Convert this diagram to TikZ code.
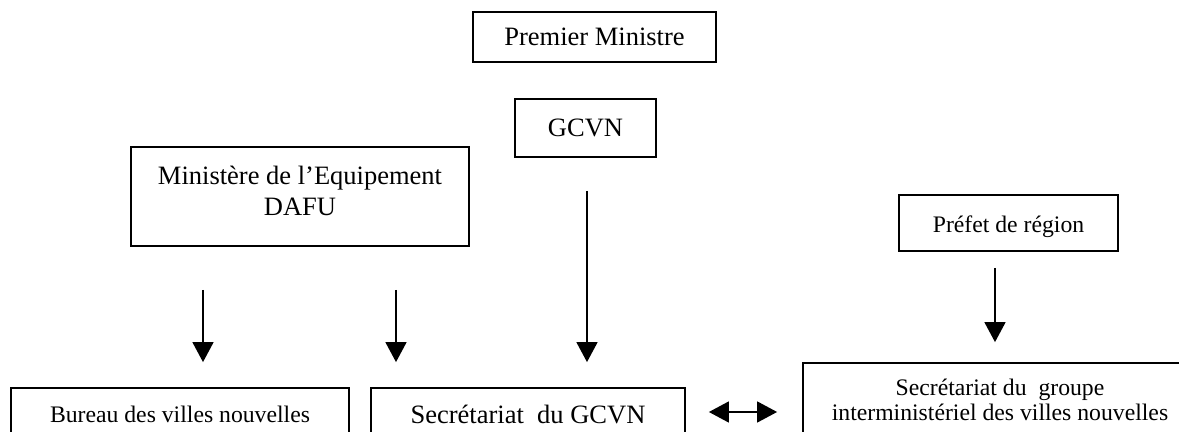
\documentclass[tikz,border=0pt]{standalone}
\usepackage{fontspec}
\setmainfont{Liberation Serif}
\usetikzlibrary{arrows.meta}
\begin{document}
\begin{tikzpicture}[x=0.5pt,y=-0.5pt,
  box/.style={draw, line width=0.9pt, inner sep=0pt, align=center},
  big/.style={font=\fontsize{13.25}{15.5}\selectfont},
  small/.style={font=\fontsize{11.85}{12.5}\selectfont},
  arr/.style={line width=0.8pt, -{Triangle[width=10.5pt,length=10pt]}},
  darr/.style={line width=0.8pt, {Triangle[width=10.5pt,length=10pt]}-{Triangle[width=10.5pt,length=10pt]}}]
\useasboundingbox (0,0) rectangle (1179,432);
\clip (0,0) rectangle (1179,432);

\node[box,big,minimum width=121.5pt,minimum height=25pt] (pm) at (594.5,37) {Premier Ministre};
\node[box,big,minimum width=70.5pt,minimum height=29pt] (gcvn) at (585.5,128) {GCVN};
\node[box,big,minimum width=169pt,minimum height=49.5pt,text depth=6pt] (min) at (300,196.5) {Ministère de l’Equipement\\DAFU};
\node[box,small,minimum width=109.5pt,minimum height=28pt,text height=11pt,text depth=1pt] (pref) at (1008.5,223) {Préfet de région};
\node[box,small,minimum width=169pt,minimum height=26pt] (bur) at (180,414) {Bureau des villes nouvelles};
\node[box,big,minimum width=157pt,minimum height=26pt] (sg) at (528,414) {Secrétariat\ \ du GCVN};
\node[box,small,minimum width=197pt,minimum height=37pt] (sgi) at (1000,400) {Secrétariat du\ \ groupe\\interministériel des villes nouvelles};

\draw[arr, shorten <=21.5pt, shorten >=12.5pt] (min.south -| 203,0) -- (bur.north -| 203,0);
\draw[arr, shorten <=21.5pt, shorten >=12.5pt] (min.south -| 396,0) -- (sg.north -| 396,0);
\draw[arr, shorten <=16.5pt, shorten >=12.5pt] (gcvn.south -| 587,0) -- (sg.north -| 587,0);
\draw[arr, shorten <=8pt, shorten >=10pt] (pref.south -| 995,0) -- (sgi.north -| 995,0);
\draw[darr, shorten <=11.5pt, shorten >=12.5pt] (sg.east |- 0,412) -- (sgi.west |- 0,412);
\end{tikzpicture}
\end{document}
